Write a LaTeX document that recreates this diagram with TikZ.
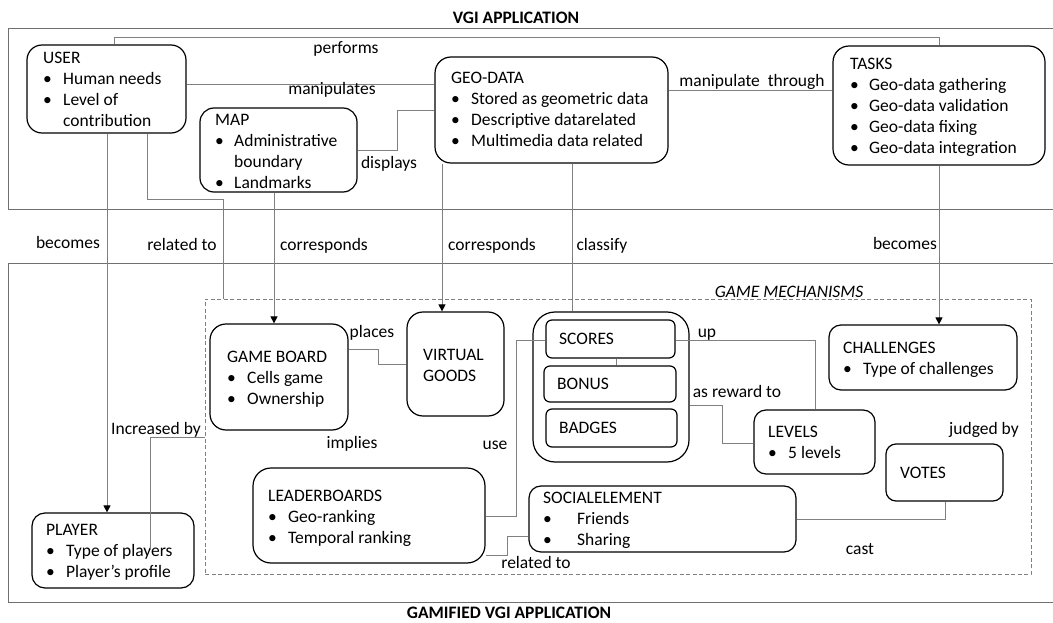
\documentclass[tikz,border=0pt]{standalone}
\usepackage{fontspec}
\setmainfont{Carlito}
\usetikzlibrary{arrows.meta}
\definecolor{conc}{RGB}{128,128,128}
\definecolor{framec}{RGB}{112,112,112}
\newcommand{\itm}[2][20pt]{\makebox[#1][l]{•}#2}
\begin{document}
\begin{tikzpicture}[x=1pt,y=-1pt, font=\fontsize{17.5pt}{21pt}\selectfont,
  box/.style={draw=black, line width=1.2pt, rounded corners=#1, inner sep=0pt},
  box/.default=14pt,
  txt/.style={anchor=north west, align=left, inner sep=0pt},
  lbl/.style={anchor=base, inner sep=0pt},
  con/.style={draw=conc, line width=0.9pt},
  arr/.style={-{Triangle[width=7pt,length=7pt,color=black]}},
  frame/.style={draw=framec, line width=1pt}]
\useasboundingbox (0,0) rectangle (1053,623);

% frames
\draw[frame] (1053,29) -- (8,29) -- (8,210) -- (1053,210);
\draw[frame] (1053,263) -- (8,263) -- (8,602) -- (1053,602);
\node[lbl, font=\fontsize{17.5pt}{21pt}\selectfont\bfseries] (vgiT) at (516,24) {VGI APPLICATION};
\node[lbl, font=\fontsize{17.5pt}{21pt}\selectfont\bfseries] (gamT) at (509,618) {GAMIFIED VGI APPLICATION};

% game mechanisms
\node[draw=conc, dash pattern=on 4pt off 2.5pt, line width=0.9pt, minimum width=826pt, minimum height=275pt, inner sep=0pt] (gm) at (618,436.5) {};
\node[lbl, font=\fontsize{17.5pt}{21pt}\selectfont\itshape] (gmT) at (789,297) {GAME MECHANISMS};

% boxes
\node[box=15pt, minimum width=159pt, minimum height=88pt] (user) at (106.5,89) {};
\node[box=14pt, minimum width=157pt, minimum height=84pt] (map) at (278.5,150) {};
\node[box=16pt, minimum width=233pt, minimum height=106pt] (geo) at (551.5,110) {};
\node[box=16pt, minimum width=212pt, minimum height=119pt] (tasks) at (939,105.5) {};
\node[box=16pt, minimum width=138pt, minimum height=106pt] (board) at (279,377) {};
\node[box=16pt, minimum width=97pt, minimum height=104pt] (goods) at (455.5,364) {};
\node[box=22pt, minimum width=156pt, minimum height=150pt] (grp) at (611,387) {};
\node[box=6pt, minimum width=129pt, minimum height=38pt] (scores) at (610.5,339) {};
\node[box=6pt, minimum width=132pt, minimum height=36pt] (bonus) at (610,384) {};
\node[box=6pt, minimum width=131pt, minimum height=38pt] (badges) at (611.5,428) {};
\node[box=12pt, minimum width=188pt, minimum height=65pt] (chal) at (923,357.5) {};
\node[box=12pt, minimum width=121pt, minimum height=64pt] (levels) at (814.5,442) {};
\node[box=10pt, minimum width=117pt, minimum height=57pt] (votes) at (944.5,472.5) {};
\node[box=18pt, minimum width=232pt, minimum height=95pt] (leaders) at (369,515.5) {};
\node[box=12pt, minimum width=267pt, minimum height=66pt] (social) at (662.5,519) {};
\node[box=13pt, minimum width=162pt, minimum height=75pt] (player) at (113,550.5) {};

% box texts
\node[txt] (userT) at (43,52.3) {USER\\\itm{Human needs}\\\itm{Level of}\\\hspace{20pt}contribution};
\node[txt] (mapT) at (215,114.3) {MAP\\\itm[19pt]{Administrative}\\\hspace{19pt}boundary\\\itm[19pt]{Landmarks}};
\node[txt] (geoT) at (451,72.3) {GEO-DATA\\\itm{Stored as geometric data}\\\itm{Descriptive datarelated}\\\itm{Multimedia data related}};
\node[txt] (tasksT) at (850,58.3) {TASKS\\\itm[19pt]{Geo-data gathering}\\\itm[19pt]{Geo-data validation}\\\itm[19pt]{Geo-data fixing}\\\itm[19pt]{Geo-data integration}};
\node[txt] (boardT) at (227,351.3) {GAME BOARD\\\itm{Cells game}\\\itm{Ownership}};
\node[txt] (goodsT) at (423,349.3) {VIRTUAL\\GOODS};
\node[txt] (scoresT) at (559,333.3) {SCORES};
\node[txt] (bonusT) at (557,378.3) {BONUS};
\node[txt] (badgesT) at (559,422.3) {BADGES};
\node[txt] (chalT) at (843,342.3) {CHALLENGES\\\itm{Type of challenges}};
\node[txt] (levelsT) at (768,426.3) {LEVELS\\\itm{5 levels}};
\node[txt] (votesT) at (900,467.3) {VOTES};
\node[txt] (leadersT) at (268,490.3) {LEADERBOARDS\\\itm{Geo-ranking}\\\itm{Temporal ranking}};
\node[txt] (socialT) at (543,492.3) {SOCIALELEMENT\\\itm[34pt]{Friends}\\\itm[34pt]{Sharing}};
\node[txt] (playerT) at (46,524.3) {PLAYER\\\itm{Type of players}\\\itm{Player's profile}};

% connectors
\draw[con] (114,0 |- user.north) -- (114,37) -- (939,37) -- (939,0 |- tasks.north);
\draw[con] (user.east |- 0,84) -- (geo.west |- 0,84);
\draw[con] (map.east |- 0,150) -- (397,150) -- (397,110) -- (geo.west |- 0,110);
\draw[con] (geo.east |- 0,90) -- (tasks.west |- 0,90);
\draw[con,arr] (107,0 |- user.south) -- (107,0 |- player.north);
\draw[con] (147,0 |- user.south) -- (147,199) -- (223,199) -- (223,0 |- gm.north);
\draw[con,arr] (274,0 |- map.south) -- (274,0 |- board.north);
\draw[con,arr] (442,0 |- geo.south) -- (442,0 |- goods.north);
\draw[con] (572,0 |- geo.south) -- (572,0 |- grp.north);
\draw[con,arr] (939,0 |- tasks.south) -- (939,0 |- chal.north);
\draw[con] (board.east |- 0,349) -- (378,349) -- (378,364) -- (goods.west |- 0,364);
\draw[con] (scores.east |- 0,340) -- (815,340) -- (815,0 |- levels.north);
\draw[con] (616,0 |- scores.south) -- (616,0 |- bonus.north);
\draw[con] (grp.east |- 0,405) -- (722,405) -- (722,443) -- (levels.west |- 0,443);
\draw[con] (leaders.east |- 0,516) -- (516,516) -- (516,340) -- (scores.west |- 0,340);
\draw[con] (leaders.east |- 0,555) -- (507,555) -- (507,536) -- (social.west |- 0,536);
\draw[con] (social.east |- 0,519) -- (945,519) -- (945,0 |- votes.south);
\coordinate (incEnd) at (150,550);
\draw[con] (gm.west |- 0,437) -- (150,437) -- (incEnd);

% labels
\node[lbl] (l1) at (346,54) {performs};
\node[lbl] (l2) at (332,95) {manipulates};
\node[lbl] (l3) at (389,168) {displays};
\node[lbl] (l4) at (752,87) {manipulate\ \ through};
\node[lbl] (l5) at (68,248) {becomes};
\node[lbl] (l6) at (182,250) {related to};
\node[lbl] (l7) at (324,250) {corresponds};
\node[lbl] (l8) at (492,251) {corresponds};
\node[lbl] (l9) at (602,250) {classify};
\node[lbl] (l10) at (905,249) {becomes};
\node[lbl] (l11) at (372,337) {places};
\node[lbl] (l12) at (707,337) {up};
\node[lbl] (l13) at (737,397) {as reward to};
\node[lbl] (l14) at (495,449) {use};
\node[lbl] (l15) at (352,448) {implies};
\node[lbl] (l16) at (156,434) {Increased by};
\node[lbl] (l17) at (984,434) {judged by};
\node[lbl] (l18) at (860,554) {cast};
\node[lbl] (l19) at (536,568) {related to};
\end{tikzpicture}
\end{document}
